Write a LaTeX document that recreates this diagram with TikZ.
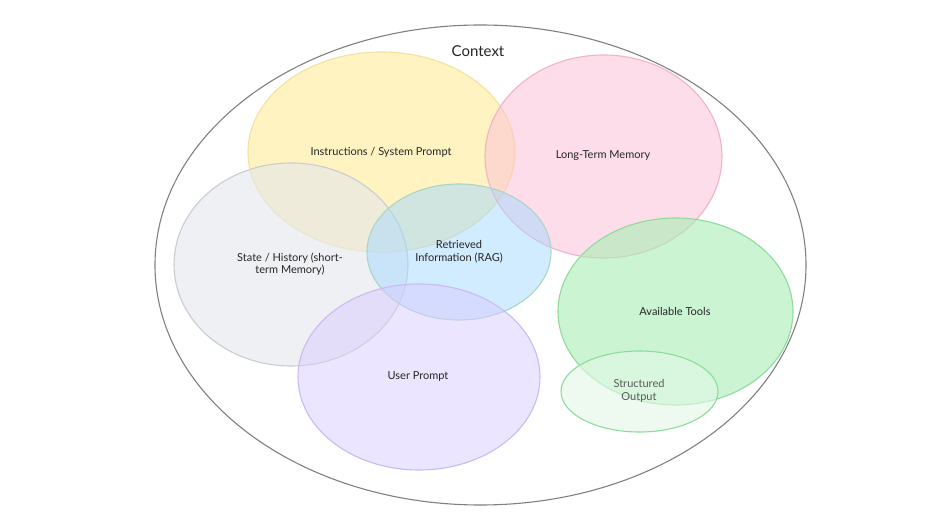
\documentclass[tikz,border=0pt]{standalone}
\usepackage{fontspec}
\setmainfont{Lato}
\begin{document}
\begin{tikzpicture}[x=1pt,y=-1pt,
  lbl/.style={font=\fontsize{11}{12.5}\selectfont, align=center, text=black!85}]
\definecolor{yelF}{HTML}{FFEFA8}\definecolor{yelD}{HTML}{F2E2A0}
\definecolor{pinF}{HTML}{FCC2D7}\definecolor{pinD}{HTML}{F2B3C8}
\definecolor{gryF}{HTML}{E4E7EB}\definecolor{gryD}{HTML}{C9CDD2}
\definecolor{bluF}{HTML}{A5D8FF}\definecolor{bluD}{HTML}{A9D6C8}
\definecolor{purF}{HTML}{D9CCFF}\definecolor{purD}{HTML}{C9BBF2}
\definecolor{grnF}{HTML}{A8EEB4}\definecolor{grnD}{HTML}{8EDC9C}
\definecolor{strF}{HTML}{E4F8E7}
\useasboundingbox (0,0) rectangle (943,518);
\fill[white] (0,0) rectangle (943,518);
\draw[line width=1.1pt, black!50] (480.5,265) ellipse [x radius=325.5, y radius=240];
\node[lbl, font=\fontsize{15}{17}\selectfont] (ctx) at (478,51) {Context};
\fill[yelF, fill opacity=0.7] (381.5,152) ellipse [x radius=133.5, y radius=100];
\draw[yelD, line width=1.1pt] (381.5,152) ellipse [x radius=133.5, y radius=100];
\fill[pinF, fill opacity=0.55] (603.5,156.5) ellipse [x radius=118.5, y radius=101.5];
\draw[pinD, line width=1.1pt] (603.5,156.5) ellipse [x radius=118.5, y radius=101.5];
\fill[gryF, fill opacity=0.6] (291,264.5) ellipse [x radius=117, y radius=101.5];
\draw[gryD, line width=1.1pt] (291,264.5) ellipse [x radius=117, y radius=101.5];
\fill[bluF, fill opacity=0.5] (459,252) ellipse [x radius=92, y radius=68];
\draw[bluD, line width=1.1pt] (459,252) ellipse [x radius=92, y radius=68];
\fill[purF, fill opacity=0.5] (419,377) ellipse [x radius=121, y radius=93];
\draw[purD, line width=1.1pt] (419,377) ellipse [x radius=121, y radius=93];
\fill[grnF, fill opacity=0.6] (675.5,311.5) ellipse [x radius=117.5, y radius=93.5];
\draw[grnD, line width=1.1pt] (675.5,311.5) ellipse [x radius=117.5, y radius=93.5];
\fill[strF, fill opacity=0.6] (639.5,391.5) ellipse [x radius=78.5, y radius=40.5];
\draw[grnD, line width=1.1pt] (639.5,391.5) ellipse [x radius=78.5, y radius=40.5];
\node[lbl] (ins) at (381,152) {Instructions / System Prompt};
\node[lbl] (ltm) at (603,156) {Long-Term Memory};
\node[lbl] (sth) at (290,264) {State / History (short-\\term Memory)};
\node[lbl] (rag) at (459,252) {Retrieved\\Information (RAG)};
\node[lbl] (usr) at (418,377) {User Prompt};
\node[lbl] (tools) at (675,311) {Available Tools};
\node[lbl, text=black!65] (out) at (639,391) {Structured\\Output};
\end{tikzpicture}
\end{document}
